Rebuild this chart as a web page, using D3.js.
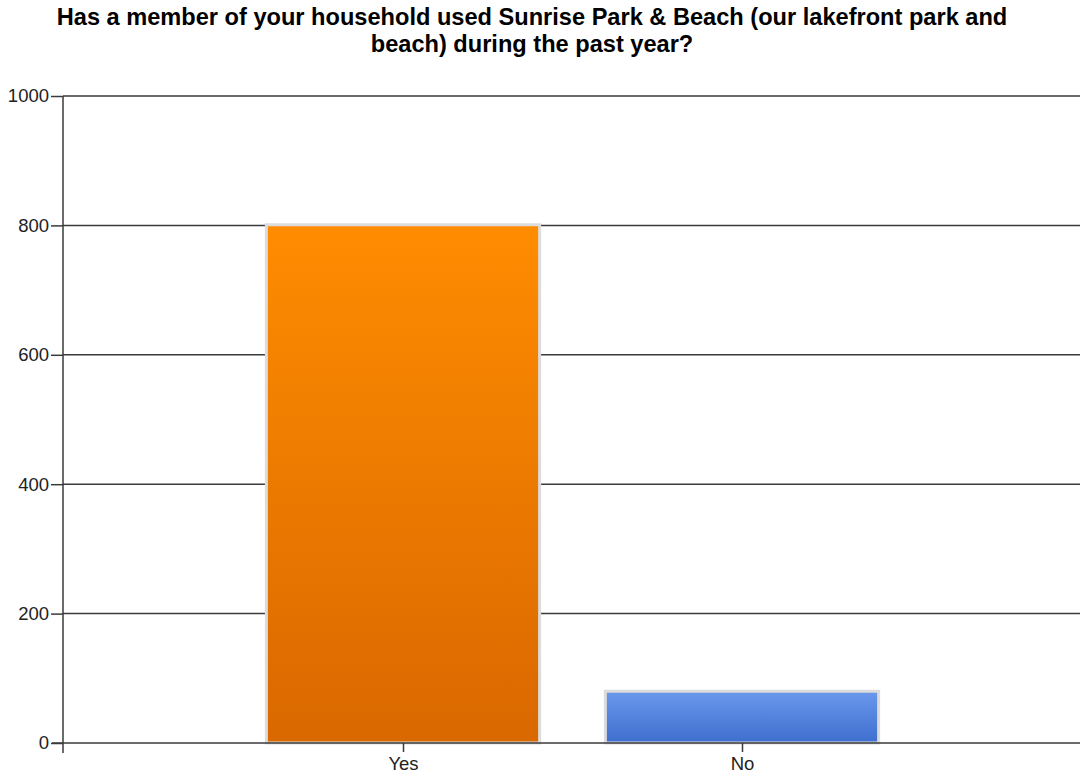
<!DOCTYPE html>
<html><head><meta charset="utf-8">
<script src="https://cdn.jsdelivr.net/npm/d3@7"></script>
<style>body{margin:0;background:#fff}svg{display:block}</style>
</head><body>
<svg id="c" width="1081" height="779"></svg>
<script>
const categories = ["Yes", "No"];
const values = [801, 80];
const yTicks = [0, 200, 400, 600, 800, 1000];
const titleLines = ["Has a member of your household used Sunrise Park & Beach (our lakefront park and", "beach) during the past year?"];

const svg = d3.select("#c");
const L = 63, R = 1080, T = 96, B = 743;
const x = d3.scalePoint().domain(categories).range([L + 1, R + 1]).padding(1);
const y = d3.scaleLinear().domain([0, 1000]).range([B, T]);
const bw = x.step() * 0.806;
const font = "Liberation Sans, Arial, sans-serif";

const defs = svg.append("defs");
const grads = [["#ff8c00", "#d96800"], ["#6a98ec", "#3f6fcf"]];
grads.forEach((g, i) => {
  const lg = defs.append("linearGradient").attr("id", "g" + i).attr("x1", 0).attr("y1", 0).attr("x2", 0).attr("y2", 1);
  lg.append("stop").attr("offset", "0%").attr("stop-color", g[0]);
  lg.append("stop").attr("offset", "100%").attr("stop-color", g[1]);
});

svg.append("g").selectAll("text").data(titleLines).join("text")
  .attr("x", 532).attr("y", (d, i) => 25 + i * 27)
  .attr("text-anchor", "middle")
  .attr("font-family", font)
  .attr("font-weight", "bold").attr("font-size", 23.6).attr("fill", "#000")
  .text(d => d);

// gridlines
svg.append("g").selectAll("line").data(yTicks.filter(d => d > 0)).join("line")
  .attr("x1", L).attr("x2", R).attr("y1", d => y(d)).attr("y2", d => y(d))
  .attr("stroke", "#3a3a3a").attr("stroke-width", 1.5);

// bars
svg.append("g").selectAll("rect").data(values).join("rect")
  .attr("x", (d, i) => x(categories[i]) - bw / 2)
  .attr("width", bw)
  .attr("y", d => y(d))
  .attr("height", d => B - y(d))
  .attr("fill", (d, i) => `url(#g${i})`)
  .attr("stroke", "#dcdcdc").attr("stroke-width", 3);

// y axis
const ya = svg.append("g").attr("transform", `translate(${L},0)`)
  .call(d3.axisLeft(y).tickValues(yTicks).tickSize(12).tickPadding(2).tickFormat(d3.format("d")));
ya.select(".domain").attr("stroke", "#3a3a3a").attr("stroke-width", 1.5).attr("d", `M0,${T}V${B + 10}`);
ya.selectAll(".tick line").attr("stroke", "#3a3a3a").attr("stroke-width", 1.5);
ya.selectAll("text").attr("font-family", font).attr("font-size", 18.5).attr("fill", "#222");

// x axis
const xa = svg.append("g").attr("transform", `translate(0,${B})`)
  .call(d3.axisBottom(x).tickSize(9).tickPadding(5));
xa.select(".domain").attr("stroke", "#3a3a3a").attr("stroke-width", 1.5).attr("d", `M${L - 11},0H${R}`);
xa.selectAll(".tick line").attr("stroke", "#3a3a3a").attr("stroke-width", 1.5);
xa.selectAll("text").attr("font-family", font).attr("font-size", 18.5).attr("fill", "#222");
</script>
</body></html>
